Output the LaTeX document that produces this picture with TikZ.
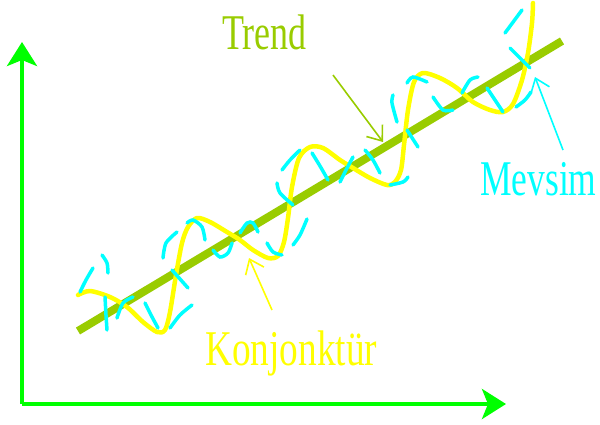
\documentclass[tikz,border=0pt]{standalone}
\usepackage{fontspec}
\setmainfont{Liberation Serif}
\usetikzlibrary{arrows.meta}
\definecolor{axgreen}{RGB}{0,255,0}
\definecolor{trendgreen}{RGB}{153,204,0}
\definecolor{konjyellow}{RGB}{255,255,0}
\definecolor{mevcyan}{RGB}{0,255,255}
\tikzset{
  axis/.style={draw=axgreen, line width=4pt, -{Stealth[length=24pt,width=30pt,inset=6pt]}},
  trendline/.style={draw=trendgreen, line width=8pt},
  wave/.style={draw=konjyellow, line width=4.5pt, line cap=round, line join=round},
  seas/.style={draw=mevcyan, line width=3.5pt, line cap=round},
  barb/.style={line width=1.6pt, -{Straight Barb[length=13pt,width=20pt]}},
  lbl/.style={inner sep=0pt, anchor=base west},
}
\begin{document}
\begin{tikzpicture}[x=1pt,y=-1pt]
\useasboundingbox (0,0) rectangle (600,424);
% axes
\coordinate (origin) at (22,404);
\coordinate (ytip) at (22,42);
\coordinate (xtip) at (506,404);
\draw[axis] (origin) -- (ytip);
\draw[axis] (origin) -- (xtip);
% trend
\coordinate (tstart) at (78,331);
\coordinate (tend) at (562,41);
\draw[trendline] (tstart) -- (tend);
% konjonktur wave
\draw[wave] plot[smooth, tension=0.5] coordinates {
(78,295) (90,291) (110,297) (127,307) (143,322) (157,332) (165,330) (170,312) (176,275) (182,243) (188,227) (197,218) (210,222) (227,232) (240,240) (253,250) (268,258) (278,256) (284,242) (288,218) (292,187) (299,158) (310,147) (323,148) (340,160) (353,168) (370,178) (387,185) (395,182) (401,170) (404,145) (408,110) (414,82) (423,73) (440,78) (457,88) (473,102) (490,110) (503,112) (513,104) (522,80) (528,53) (532,23) (533,3)};
% mevsim dashes
\draw[seas] plot[smooth] coordinates {(80,292) (86,280) (93,268)};
\draw[seas] plot[smooth] coordinates {(102,255) (107,263) (108,273)};
\draw[seas] plot[smooth] coordinates {(105,297) (106,315) (107,330)};
\draw[seas] plot[smooth] coordinates {(117,318) (123,303) (133,297)};
\draw[seas] plot[smooth] coordinates {(145,303) (151,315) (158,328)};
\draw[seas] plot[smooth] coordinates {(163,258) (166,243) (177,232)};
\draw[seas] plot[smooth] coordinates {(172,270) (180,279) (188,288)};
\draw[seas] plot[smooth] coordinates {(170,328) (180,315) (192,305)};
\draw[seas] plot[smooth] coordinates {(187,223) (193,220) (202,227) (205,240)};
\draw[seas] plot[smooth] coordinates {(213,250) (220,257) (228,253) (232,243)};
\draw[seas] plot[smooth] coordinates {(240,233) (247,223) (253,223) (258,232)};
\draw[seas] plot[smooth] coordinates {(267,243) (273,252) (282,255)};
\draw[seas] plot[smooth] coordinates {(277,183) (280,193) (293,205)};
\draw[seas] plot[smooth] coordinates {(282,170) (290,160) (300,150)};
\draw[seas] plot[smooth] coordinates {(293,245) (300,235) (307,219)};
\draw[seas] plot[smooth] coordinates {(312,153) (320,166) (328,180)};
\draw[seas] plot[smooth] coordinates {(340,182) (346,170) (353,157)};
\draw[seas] plot[smooth] coordinates {(365,150) (373,160) (380,173)};
\draw[seas] plot[smooth] coordinates {(390,185) (403,182) (408,177)};
\draw[seas] plot[smooth] coordinates {(393,95) (392,103) (397,122)};
\draw[seas] plot[smooth] coordinates {(407,83) (413,77) (427,82)};
\draw[seas] plot[smooth] coordinates {(433,97) (443,110) (453,110)};
\draw[seas] plot[smooth] coordinates {(462,93) (470,80) (478,77)};
\draw[seas] plot[smooth] coordinates {(487,88) (497,103) (503,112)};
\draw[seas] plot[smooth] coordinates {(407,130) (418,147)};
\draw[seas] plot[smooth] coordinates {(505,33) (522,10)};
\draw[seas] plot[smooth] coordinates {(510,48) (530,68)};
\draw[seas] plot[smooth] coordinates {(516,107) (525,100) (531,92)};
% labels
\node[lbl, text=trendgreen] (trend) at (222,49) {\scalebox{0.72}[1]{\fontsize{50}{50}\selectfont Trend}};
\node[lbl, text=konjyellow] (konj) at (205,365) {\scalebox{0.746}[1]{\fontsize{50}{50}\selectfont Konjonktür}};
\node[lbl, text=mevcyan] (mevsim) at (480,195) {\scalebox{0.71}[1]{\fontsize{50}{50}\selectfont Mevsim}};
% pointer arrows
\coordinate (ta) at (333,75);
\coordinate (tb) at (383,142);
\coordinate (ka) at (272,310);
\coordinate (kb) at (249,258);
\coordinate (ma) at (563,150);
\coordinate (mb) at (535,77);
\draw[barb, draw=trendgreen] (ta) -- (tb);
\draw[barb, draw=konjyellow] (ka) -- (kb);
\draw[barb, draw=mevcyan] (ma) -- (mb);
\end{tikzpicture}
\end{document}
